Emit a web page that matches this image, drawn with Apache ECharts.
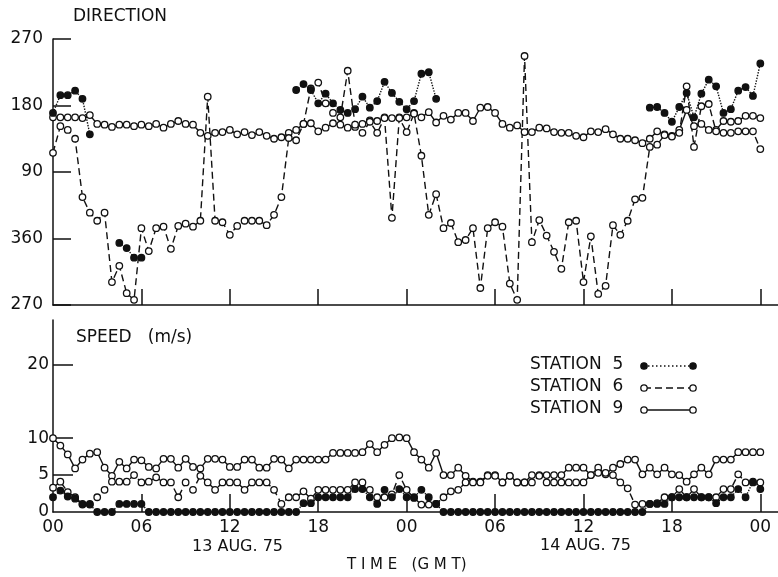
<!DOCTYPE html>
<html>
<head>
<meta charset="utf-8">
<title>Direction / Speed, Stations 5, 6, 9</title>
<script src="https://cdn.jsdelivr.net/npm/echarts@6/dist/echarts.min.js"></script>
<style>
html,body{margin:0;padding:0;background:#fff;}
#chart{width:778px;height:577px;}
</style>
</head>
<body>
<div id="chart"></div>
<script>
// half-hourly observations, 00 GMT 13 Aug 75 .. 00 GMT 15 Aug 75 (97 samples)
var hours = [];
for (var i = 0; i <= 96; i++) hours.push(i / 2);

// x axis tick labels (hours from start)
var timeTicks = [0, 6, 12, 18, 24, 30, 36, 42, 48];
var dayLabels = ['13 AUG. 75', '14 AUG. 75'];

// wind direction, degrees true ('-' = calm / no reading)
var dir5 = [170,194,194,200,189,141,'-','-','-',354,
	347,334,334,'-','-','-','-','-','-','-',
	'-','-','-','-','-','-','-','-','-','-',
	'-','-','-',201,209,201,183,196,183,174,
	170,175,192,177,186,212,197,185,175,186,
	223,225,189,'-','-','-','-','-','-','-',
	'-','-','-','-','-','-','-','-','-','-',
	'-','-','-','-','-','-','-','-','-','-',
	'-',177,178,170,158,178,197,164,196,215,
	206,170,175,200,205,193,237];
var dir6 = [116,152,147,135,56,35,24,35,301,323,
	286,277,14,343,14,16,346,17,20,16,
	24,192,24,22,5,17,24,24,24,18,
	32,56,136,133,155,203,211,183,170,164,
	227,154,143,158,143,163,28,163,144,169,
	112,32,60,14,21,355,358,14,293,14,
	22,16,299,277,247,355,25,4,342,319,
	22,24,301,3,285,296,18,5,24,53,
	55,124,127,140,138,143,206,124,179,182,
	145,143,143,145,145,145,121];
var dir9 = [164,164,164,164,163,167,155,154,151,154,
	154,152,154,152,155,150,155,159,155,154,
	143,139,143,144,147,141,144,140,144,139,
	135,137,143,147,155,156,145,150,156,154,
	150,151,155,160,159,164,163,164,164,170,
	164,171,157,166,161,170,170,159,177,178,
	170,155,150,153,144,144,150,149,144,143,
	143,139,137,145,144,148,141,135,135,133,
	129,135,145,141,139,147,174,152,155,147,
	147,159,158,159,166,166,163];

// wind speed, m/s
var spd5 = [2.0,2.9,2.1,1.8,1.0,1.0,0,0,0,1.1,
	1.1,1.1,1.1,0,0,0,0,0,0,0,
	0,0,0,0,0,0,0,0,0,0,
	0,0,0,0,1.2,1.2,2.0,2.0,2.0,2.0,
	2.0,3.1,3.1,2.0,1.1,3.0,2.0,3.1,2.0,2.0,
	3.0,2.0,1.1,0,0,0,0,0,0,0,
	0,0,0,0,0,0,0,0,0,0,
	0,0,0,0,0,0,0,0,0,0,
	0,1.1,1.1,1.1,2.0,2.0,2.0,2.0,2.0,2.0,
	1.2,2.0,2.0,3.1,2.0,4.1,3.1];
var spd6 = [3.3,4.1,2.7,2.0,1.1,1.1,2.0,3.0,4.1,4.1,
	4.1,5.0,4.0,4.1,4.7,4.0,4.0,2.0,4.0,3.0,
	4.9,4.0,3.0,4.0,4.0,4.0,3.0,4.0,4.0,4.0,
	3.0,1.1,2.0,2.0,2.8,1.8,3.0,3.0,3.0,3.0,
	3.0,4.0,4.0,3.0,2.0,2.0,2.4,5.0,3.0,1.9,
	1.0,1.0,1.1,2.0,2.8,3.0,4.0,4.0,4.0,4.9,
	4.9,4.0,4.9,4.0,4.0,4.0,4.9,4.0,4.0,4.0,
	4.0,4.0,4.0,5.0,5.3,5.3,5.0,4.0,3.2,1.0,
	1.1,1.1,1.2,2.0,2.0,3.1,2.0,3.1,2.0,2.0,
	2.0,3.1,3.1,5.1,4.0,4.0,4.0];
var spd9 = [10.0,9.0,7.8,5.9,7.1,7.9,8.1,6.0,4.9,6.8,
	5.9,7.1,7.0,6.1,5.9,7.2,7.2,6.0,7.2,6.1,
	5.9,7.2,7.2,7.1,6.1,6.1,7.1,7.1,6.0,6.0,
	7.2,7.1,5.9,7.1,7.1,7.1,7.1,7.1,8.0,8.0,
	8.0,8.0,8.1,9.2,8.1,9.1,10.0,10.1,10.0,8.1,
	7.1,6.0,8.0,5.0,5.0,6.0,4.9,4.1,4.1,5.0,
	5.0,4.0,4.9,4.0,4.0,5.0,5.0,5.0,5.0,5.0,
	6.0,6.0,6.0,5.0,6.0,5.1,6.0,6.5,7.1,7.1,
	5.1,6.0,5.1,6.0,5.1,5.0,4.1,5.1,6.0,5.1,
	7.1,7.1,7.1,8.1,8.1,8.1,8.1];

var dirTicks = [270, 360, 450, 540, 630];
var speedTicks = [0, 5, 10, 20];
var stations = ['STATION  5', 'STATION  6', 'STATION  9'];

var FONT = 'DejaVu Sans';
var INK = '#111';

// direction axis runs 270 -> 360 -> 90 -> 180 -> 270, so unwrap below 270
function toAxis(d) {
	if (d === '-') return '-';
	return d < 270 ? d + 360 : d;
}
function pairs(vals, conv) {
	var out = [];
	for (var k = 0; k < hours.length; k++) {
		out.push([hours[k], conv ? conv(vals[k]) : vals[k]]);
	}
	return out;
}

var styles = {
	s5: {line: 'dotted', fill: INK},
	s6: {line: [7, 4], fill: '#fff'},
	s9: {line: 'solid', fill: '#fff'}
};

function mkSeries(name, data, st, axisIdx) {
	return {
		name: name,
		type: 'line',
		xAxisIndex: axisIdx,
		yAxisIndex: axisIdx,
		data: data,
		connectNulls: false,
		symbol: 'circle',
		symbolSize: 6.5,
		lineStyle: {color: INK, width: 1.4, type: st.line},
		itemStyle: {color: st.fill, borderColor: INK, borderWidth: 1.3},
		emphasis: {disabled: true}
	};
}

function xAxisCfg(idx, tickLen, withLabels) {
	return {
		type: 'value',
		gridIndex: idx,
		min: 0,
		max: 49.2,
		splitLine: {show: false},
		axisLine: {lineStyle: {color: INK, width: 1.5}},
		axisTick: {inside: true, length: tickLen, lineStyle: {color: INK, width: 1.5},
			customValues: [6, 12, 18, 24, 30, 36, 42, 48]},
		axisLabel: {
			show: withLabels,
			customValues: timeTicks,
			margin: 7,
			color: INK,
			fontFamily: FONT,
			fontSize: 17,
			formatter: function(v) {
				var h = Math.round(v) % 24;
				return (h < 10 ? '0' : '') + h;
			}
		}
	};
}

var chart = echarts.init(document.getElementById('chart'), null, {renderer: 'canvas'});

var legendY = [366, 388, 410];
var legendKeys = ['s5', 's6', 's9'];
var legendGfx = [];
for (var n = 0; n < 3; n++) {
	var st = styles[legendKeys[n]];
	legendGfx.push({type: 'text', left: 530, top: legendY[n] - 10,
		style: {text: stations[n], font: '17px "' + FONT + '"', fill: INK}});
	legendGfx.push({type: 'line', shape: {x1: 644, y1: legendY[n], x2: 693, y2: legendY[n]},
		style: {stroke: INK, lineWidth: 1.4, lineDash: st.line === 'solid' ? null : (st.line === 'dotted' ? [1.5, 2.5] : [7, 4])}});
	legendGfx.push({type: 'circle', shape: {cx: 644, cy: legendY[n], r: 3.2},
		style: {fill: st.fill, stroke: INK, lineWidth: 1.3}});
	legendGfx.push({type: 'circle', shape: {cx: 693, cy: legendY[n], r: 3.2},
		style: {fill: st.fill, stroke: INK, lineWidth: 1.3}});
}

var option = {
	backgroundColor: '#fff',
	animation: false,
	grid: [
		{left: 53, right: 0, top: 39, height: 266},
		{left: 53, right: 0, top: 320, height: 192}
	],
	xAxis: [xAxisCfg(0, 16, false), xAxisCfg(1, 18, true)],
	yAxis: [{
		type: 'value',
		gridIndex: 0,
		min: 270,
		max: 630,
		interval: 90,
		splitLine: {show: false},
		axisLine: {show: true, lineStyle: {color: INK, width: 1.5}},
		axisTick: {inside: true, length: 18, lineStyle: {color: INK, width: 1.5}},
		axisLabel: {
			customValues: dirTicks,
			margin: 10,
			color: INK,
			fontFamily: FONT,
			fontSize: 17,
			formatter: function(v) { return v > 360 ? v - 360 : v; }
		}
	}, {
		type: 'value',
		gridIndex: 1,
		min: 0,
		max: 26,
		splitLine: {show: false},
		axisLine: {show: true, lineStyle: {color: INK, width: 1.5}},
		axisTick: {inside: true, length: 20, lineStyle: {color: INK, width: 1.5},
			customValues: [5, 10, 20]},
		axisLabel: {
			customValues: speedTicks,
			margin: 4,
			color: INK,
			fontFamily: FONT,
			fontSize: 17
		}
	}],
	series: [
		mkSeries('dir9', pairs(dir9, toAxis), styles.s9, 0),
		mkSeries('dir6', pairs(dir6, toAxis), styles.s6, 0),
		mkSeries('dir5', pairs(dir5, toAxis), styles.s5, 0),
		mkSeries('spd9', pairs(spd9), styles.s9, 1),
		mkSeries('spd6', pairs(spd6), styles.s6, 1),
		mkSeries('spd5', pairs(spd5), styles.s5, 1)
	],
	graphic: [
		{type: 'text', left: 73, top: 8, style: {text: 'DIRECTION', font: '17px "' + FONT + '"', fill: INK}},
		{type: 'text', left: 76, top: 329, style: {text: 'SPEED   (m/s)', font: '17px "' + FONT + '"', fill: INK}},
		{type: 'text', left: 192, top: 539, style: {text: dayLabels[0], font: '16px "' + FONT + '"', fill: INK}},
		{type: 'text', left: 540, top: 538, style: {text: dayLabels[1], font: '16px "' + FONT + '"', fill: INK}},
		{type: 'text', left: 347, top: 558, style: {text: 'T I M E   (G M T)', font: '15px "' + FONT + '"', fill: INK}}
	].concat(legendGfx)
};
chart.setOption(option);
</script>
</body>
</html>
